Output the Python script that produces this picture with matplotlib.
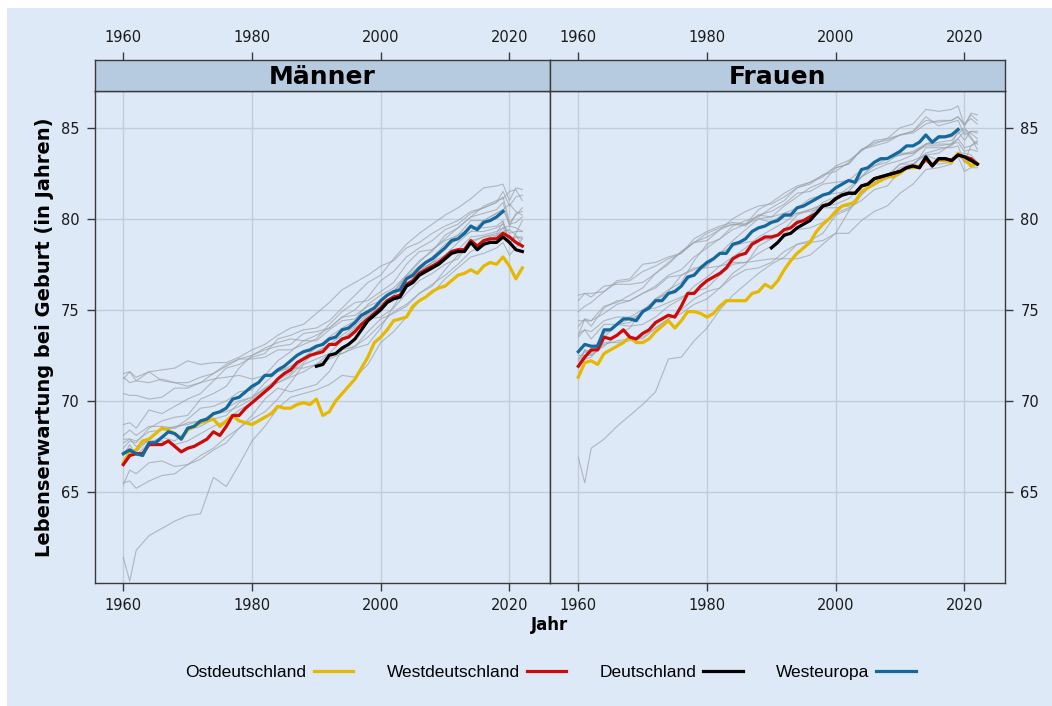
import matplotlib.pyplot as plt
from matplotlib.patches import Rectangle
from matplotlib.lines import Line2D

# ================================= Data =================================
years = list(range(1960, 2023))          # Ost-/Westdeutschland
years_we = list(range(1960, 2020))       # Westeuropa
years_de = list(range(1990, 2023))       # Deutschland
years_gray = [1960, 1961] + list(range(1962, 2019, 2)) + [2019, 2020, 2021, 2022]

# Männer
m_ost = [66.6, 67.2, 67.3, 67.8, 67.9, 68.2, 68.5, 68.4, 68.2, 67.9,
         68.4, 68.6, 68.8, 68.9, 69.0, 68.6, 68.9, 69.2, 68.9, 68.8,
         68.7, 68.9, 69.1, 69.3, 69.7, 69.6, 69.6, 69.8, 69.9, 69.8,
         70.1, 69.2, 69.4, 70.0, 70.4, 70.8, 71.2, 71.8, 72.4, 73.2,
         73.5, 73.9, 74.4, 74.5, 74.6, 75.2, 75.5, 75.7, 76.0, 76.2,
         76.3, 76.6, 76.9, 77.0, 77.2, 77.0, 77.4, 77.6, 77.5, 77.9,
         77.4, 76.7, 77.3]
m_west = [66.5, 67.0, 67.1, 67.1, 67.6, 67.6, 67.6, 67.8, 67.5, 67.2,
          67.4, 67.5, 67.7, 67.9, 68.3, 68.1, 68.6, 69.2, 69.2, 69.6,
          69.9, 70.2, 70.5, 70.8, 71.2, 71.5, 71.7, 72.1, 72.3, 72.5,
          72.6, 72.7, 73.1, 73.1, 73.4, 73.5, 73.8, 74.2, 74.5, 74.8,
          75.1, 75.5, 75.7, 75.8, 76.4, 76.6, 77.0, 77.2, 77.4, 77.6,
          77.9, 78.2, 78.3, 78.3, 78.8, 78.5, 78.8, 78.9, 78.9, 79.2,
          79.0, 78.7, 78.5]
m_de = [71.9, 72.0, 72.5, 72.6, 72.9, 73.1, 73.4, 73.9, 74.4, 74.7,
        75.0, 75.4, 75.6, 75.7, 76.3, 76.5, 76.9, 77.1, 77.3, 77.5,
        77.8, 78.1, 78.2, 78.2, 78.7, 78.3, 78.6, 78.7, 78.7, 79.0,
        78.7, 78.3, 78.2]
m_we = [67.1, 67.3, 67.1, 67.0, 67.7, 67.7, 68.0, 68.3, 68.2, 67.9,
        68.5, 68.6, 68.9, 69.0, 69.3, 69.4, 69.6, 70.1, 70.2, 70.5,
        70.8, 71.0, 71.4, 71.4, 71.7, 71.9, 72.2, 72.5, 72.7, 72.8,
        73.0, 73.1, 73.4, 73.5, 73.9, 74.0, 74.3, 74.7, 74.9, 75.1,
        75.5, 75.8, 76.0, 76.1, 76.7, 76.9, 77.3, 77.6, 77.8, 78.1,
        78.4, 78.8, 78.9, 79.2, 79.6, 79.4, 79.8, 79.9, 80.1, 80.4]

# Frauen
w_ost = [71.3, 72.1, 72.2, 72.0, 72.6, 72.8, 73.0, 73.2, 73.5, 73.2,
         73.2, 73.4, 73.8, 74.1, 74.4, 74.0, 74.4, 74.9, 74.9, 74.8,
         74.6, 74.8, 75.2, 75.5, 75.5, 75.5, 75.5, 75.9, 76.0, 76.4,
         76.2, 76.6, 77.2, 77.7, 78.1, 78.4, 78.7, 79.3, 79.7, 80.0,
         80.4, 80.7, 80.8, 80.9, 81.5, 81.7, 81.9, 82.1, 82.3, 82.3,
         82.5, 82.8, 82.8, 82.9, 83.3, 83.0, 83.2, 83.2, 83.1, 83.6,
         83.3, 82.9, 83.0]
w_west = [71.9, 72.4, 72.8, 72.8, 73.5, 73.4, 73.6, 73.9, 73.5, 73.4,
          73.7, 73.9, 74.3, 74.5, 74.7, 74.6, 75.2, 75.9, 75.9, 76.3,
          76.6, 76.8, 77.0, 77.3, 77.8, 78.0, 78.1, 78.6, 78.8, 79.0,
          79.0, 79.1, 79.4, 79.5, 79.8, 79.9, 80.1, 80.3, 80.7, 80.8,
          81.1, 81.3, 81.4, 81.4, 81.8, 81.9, 82.2, 82.3, 82.4, 82.5,
          82.6, 82.8, 82.9, 82.8, 83.3, 82.9, 83.3, 83.3, 83.2, 83.5,
          83.4, 83.3, 83.0]
w_de = [78.4, 78.7, 79.1, 79.2, 79.5, 79.7, 79.9, 80.3, 80.7, 80.8,
        81.1, 81.3, 81.4, 81.4, 81.8, 81.9, 82.2, 82.3, 82.4, 82.5,
        82.6, 82.8, 82.9, 82.8, 83.4, 82.9, 83.3, 83.3, 83.2, 83.5,
        83.4, 83.2, 83.0]
w_we = [72.7, 73.1, 73.0, 73.0, 73.9, 73.9, 74.2, 74.5, 74.5, 74.4,
        74.9, 75.1, 75.5, 75.5, 75.9, 76.0, 76.3, 76.8, 76.9, 77.3,
        77.6, 77.8, 78.1, 78.1, 78.6, 78.7, 78.9, 79.3, 79.5, 79.6,
        79.8, 79.9, 80.2, 80.2, 80.6, 80.7, 80.9, 81.1, 81.3, 81.4,
        81.7, 81.9, 82.1, 82.0, 82.7, 82.8, 83.1, 83.3, 83.3, 83.5,
        83.7, 84.0, 84.0, 84.2, 84.6, 84.2, 84.5, 84.5, 84.6, 84.9]

# einzelne westeuropäische Länder (graue Linien), Werte zu years_gray
m_schweden = [71.2, 71.6, 71.3, 71.6, 71.7, 71.8, 72.2, 72.0, 72.1, 72.1, 72.4, 72.8, 73.1, 73.6, 74.0, 74.2, 74.8, 75.4,
              76.1, 76.5, 76.9, 77.4, 77.7, 78.4, 78.7, 79.2, 79.6, 79.9, 80.4, 80.6, 80.9, 81.5, 80.7, 81.2, 81.3]
m_norwegen = [71.3, 71.0, 71.1, 71.0, 71.2, 71.0, 71.0, 71.3, 71.5, 71.9, 72.3, 72.3, 72.4, 72.8, 72.8, 73.1, 73.4, 74.2,
              74.9, 75.4, 75.5, 76.0, 76.5, 77.5, 78.2, 78.3, 78.9, 79.5, 80.1, 80.7, 81.0, 81.1, 81.5, 81.6, 81.0]
m_niederlande = [71.5, 71.6, 71.1, 71.6, 71.1, 71.0, 70.8, 71.0, 71.5, 72.0, 72.3, 72.5, 72.8, 73.0, 73.1, 73.7, 73.8, 74.0,
                 74.6, 74.7, 75.2, 75.5, 76.0, 76.9, 77.6, 78.3, 78.8, 79.1, 79.9, 79.9, 80.3, 80.5, 79.7, 79.8, 80.1]
m_daenemark = [70.4, 70.3, 70.3, 70.1, 70.2, 70.7, 70.7, 71.0, 71.2, 71.3, 71.4, 71.2, 71.4, 71.6, 71.8, 71.8, 72.0, 72.6,
               72.6, 73.0, 73.8, 74.5, 74.8, 75.2, 75.9, 76.3, 77.2, 78.0, 78.7, 79.0, 79.1, 79.5, 79.6, 79.5, 79.3]
m_schweiz = [68.7, 68.8, 68.5, 69.5, 69.3, 69.7, 70.1, 70.4, 71.1, 71.8, 72.0, 72.4, 72.6, 73.4, 73.6, 73.9, 74.0, 74.4,
             75.1, 75.8, 76.5, 76.9, 77.8, 78.6, 79.2, 79.7, 80.2, 80.6, 81.1, 81.7, 81.8, 81.9, 81.0, 81.7, 81.6]
m_uk = [67.9, 67.9, 67.8, 68.3, 68.4, 68.6, 68.7, 68.9, 69.2, 69.6, 70.0, 70.2, 71.0, 71.6, 71.9, 72.4, 72.9, 73.5,
        74.0, 74.4, 74.8, 75.5, 76.0, 76.8, 77.4, 77.9, 78.6, 79.1, 79.5, 79.5, 79.6, 79.9, 78.7, 79.0, 79.0]
m_frankreich = [67.0, 67.6, 67.0, 67.7, 68.0, 67.8, 68.4, 68.6, 69.0, 69.2, 69.9, 70.2, 70.7, 71.2, 71.5, 72.3, 72.7, 73.1,
                73.6, 74.1, 74.8, 75.3, 75.8, 76.8, 77.2, 77.6, 78.0, 78.7, 79.3, 79.3, 79.5, 79.7, 79.2, 79.3, 79.3]
m_belgien = [67.7, 67.9, 67.5, 67.8, 67.8, 67.6, 67.8, 68.2, 68.6, 68.9, 69.5, 69.9, 70.6, 71.0, 71.4, 72.1, 72.7, 73.0,
             73.4, 74.0, 74.5, 74.6, 75.1, 75.9, 76.6, 77.0, 77.5, 77.8, 78.8, 79.0, 79.2, 79.8, 78.6, 79.2, 79.9]
m_oesterreich = [65.4, 66.2, 66.0, 66.6, 66.7, 66.4, 66.5, 67.0, 67.4, 68.0, 68.5, 69.0, 69.4, 70.1, 71.0, 72.0, 72.3, 72.6,
                 73.3, 73.9, 74.7, 75.2, 75.8, 76.4, 77.1, 77.6, 77.8, 78.3, 79.0, 79.1, 79.3, 79.5, 78.9, 79.0, 78.9]
m_italien = [67.2, 67.4, 67.2, 67.9, 68.5, 68.5, 69.0, 69.6, 69.7, 70.0, 70.5, 70.6, 71.4, 72.2, 72.7, 73.3, 73.6, 74.0,
             74.6, 75.0, 75.7, 76.6, 77.1, 77.9, 78.4, 78.8, 79.4, 79.7, 80.3, 80.6, 80.9, 81.2, 79.8, 80.2, 80.6]
m_spanien = [67.4, 67.8, 67.7, 68.5, 68.9, 69.1, 69.2, 70.1, 70.4, 70.8, 71.8, 72.5, 72.9, 73.2, 73.4, 73.3, 73.3, 73.9,
             74.4, 74.5, 75.3, 75.8, 76.2, 76.9, 77.7, 78.2, 79.1, 79.5, 80.1, 80.3, 80.5, 80.9, 79.6, 80.3, 80.4]
m_portugal = [61.4, 60.1, 61.8, 62.6, 63.0, 63.4, 63.7, 63.8, 65.8, 65.3, 66.5, 67.8, 68.6, 69.6, 70.2, 70.4, 70.6, 70.9,
              71.4, 71.3, 72.0, 73.2, 73.8, 74.6, 75.5, 75.9, 76.7, 77.3, 77.9, 78.1, 78.4, 78.7, 78.0, 78.4, 78.9]
m_irland = [68.1, 68.4, 68.1, 68.6, 68.6, 68.5, 68.8, 68.9, 69.3, 69.4, 69.7, 70.1, 70.7, 71.0, 71.3, 71.6, 72.0, 72.3,
            72.6, 72.9, 73.1, 74.0, 75.2, 76.3, 77.0, 77.6, 78.4, 78.9, 79.3, 79.9, 80.3, 80.5, 80.8, 80.4, 80.2]
m_finnland = [65.5, 65.6, 65.2, 65.6, 65.9, 66.0, 66.5, 66.8, 67.3, 67.7, 68.5, 69.2, 70.1, 70.7, 70.5, 70.7, 70.9, 71.6,
              72.8, 73.0, 73.5, 74.2, 74.9, 75.3, 75.9, 76.4, 76.9, 77.5, 78.2, 78.5, 79.1, 79.3, 79.4, 79.1, 78.5]

w_schweden = [74.9, 75.2, 75.4, 76.0, 76.5, 76.6, 77.1, 77.4, 77.8, 78.1, 78.7, 78.8, 79.4, 79.7, 79.7, 80.2, 80.4, 80.8,
              81.4, 81.5, 81.9, 82.0, 82.1, 82.7, 82.9, 83.1, 83.6, 83.6, 84.1, 84.1, 84.1, 84.8, 84.3, 84.8, 84.7]
w_norwegen = [75.8, 75.9, 75.9, 76.0, 76.6, 76.7, 77.5, 77.6, 77.9, 78.1, 78.9, 79.3, 79.6, 79.8, 79.7, 80.0, 79.8, 80.3,
              80.6, 81.1, 81.3, 81.4, 81.5, 82.3, 82.7, 83.0, 83.2, 83.5, 84.1, 84.2, 84.3, 84.7, 84.9, 84.7, 84.4]
w_niederlande = [75.5, 75.9, 75.7, 76.3, 76.4, 76.4, 76.5, 77.0, 77.5, 78.2, 78.7, 79.2, 79.5, 79.7, 79.6, 80.2, 80.1, 80.3,
                 80.3, 80.4, 80.6, 80.6, 80.7, 81.4, 81.9, 82.3, 83.0, 83.0, 83.5, 83.2, 83.3, 83.6, 83.1, 83.0, 83.0]
w_daenemark = [74.4, 74.4, 74.4, 74.8, 75.3, 75.5, 75.9, 76.2, 76.8, 76.9, 77.3, 77.3, 77.4, 77.6, 77.6, 77.7, 77.8, 77.8,
               77.8, 78.0, 78.6, 79.2, 79.2, 79.9, 80.4, 80.7, 81.4, 81.9, 82.7, 82.8, 83.0, 83.6, 83.6, 83.5, 83.1]
w_schweiz = [74.1, 74.5, 74.4, 75.2, 75.4, 75.8, 76.2, 77.0, 77.6, 78.2, 78.7, 79.0, 79.4, 80.0, 80.4, 80.7, 80.8, 81.2,
             81.7, 81.9, 82.4, 82.6, 83.1, 83.8, 84.1, 84.4, 84.6, 84.7, 85.2, 85.4, 85.4, 85.6, 85.1, 85.7, 85.4]
w_uk = [73.7, 73.9, 73.8, 74.4, 74.6, 74.6, 75.0, 75.1, 75.4, 75.7, 76.0, 76.2, 76.9, 77.5, 77.6, 78.1, 78.5, 79.0,
        79.4, 79.5, 79.8, 80.3, 80.6, 81.0, 81.6, 81.8, 82.6, 82.8, 83.1, 83.0, 83.1, 83.4, 82.6, 82.8, 82.8]
w_frankreich = [73.6, 74.5, 74.1, 75.1, 75.5, 75.5, 75.9, 76.3, 76.9, 77.2, 77.9, 78.4, 78.9, 79.4, 79.7, 80.5, 80.9, 81.4,
                81.8, 82.0, 82.4, 82.8, 83.0, 83.8, 84.2, 84.3, 84.6, 84.8, 85.4, 85.3, 85.4, 85.6, 85.2, 85.5, 85.2]
w_belgien = [73.5, 73.9, 73.4, 74.2, 74.2, 74.1, 74.2, 74.6, 75.2, 75.6, 76.3, 76.8, 77.4, 77.9, 78.4, 79.0, 79.4, 79.8,
             80.3, 80.5, 80.7, 80.8, 81.1, 81.8, 82.2, 82.4, 82.6, 82.8, 83.9, 83.9, 83.9, 84.0, 83.1, 84.0, 84.2]
w_oesterreich = [71.9, 72.8, 72.5, 73.1, 73.3, 73.4, 73.4, 74.0, 74.5, 75.0, 75.6, 76.0, 76.2, 77.0, 77.5, 78.5, 78.9, 79.2,
                 79.7, 80.2, 80.9, 81.2, 81.7, 82.3, 82.9, 83.3, 83.5, 83.6, 84.0, 84.0, 84.1, 84.2, 83.7, 83.8, 83.7]
w_italien = [72.3, 72.7, 72.6, 73.5, 74.2, 74.3, 74.9, 75.6, 75.9, 76.3, 77.0, 77.4, 78.1, 78.8, 79.4, 80.0, 80.1, 80.7,
             81.2, 81.7, 82.0, 82.8, 83.0, 83.8, 84.0, 84.2, 84.6, 84.8, 85.6, 85.1, 85.3, 85.4, 84.6, 84.8, 84.8]
w_spanien = [72.2, 72.8, 72.7, 73.7, 74.2, 74.5, 74.8, 75.6, 76.1, 76.5, 77.7, 78.6, 78.9, 79.6, 79.9, 80.1, 80.6, 81.0,
             81.7, 82.0, 82.3, 82.9, 83.2, 83.7, 84.3, 84.4, 85.0, 85.2, 86.0, 85.9, 86.0, 86.2, 85.1, 85.8, 85.7]
w_portugal = [66.9, 65.5, 67.4, 67.9, 68.6, 69.2, 69.8, 70.5, 72.3, 72.4, 73.3, 74.0, 75.0, 75.8, 76.4, 77.0, 77.5, 77.9,
              78.6, 78.8, 79.2, 80.2, 80.5, 81.4, 82.0, 82.2, 82.8, 83.0, 83.6, 83.8, 84.0, 84.4, 83.9, 84.0, 84.3]
w_irland = [71.9, 72.3, 72.4, 73.2, 73.2, 73.3, 73.5, 74.0, 74.5, 74.8, 75.3, 75.6, 76.2, 76.8, 77.2, 77.3, 77.6, 78.2,
            78.6, 78.7, 78.8, 79.2, 80.4, 81.3, 82.0, 82.4, 83.0, 83.2, 83.5, 83.6, 84.1, 84.4, 84.8, 84.4, 84.1]
w_finnland = [72.5, 72.5, 72.5, 73.0, 73.6, 74.0, 75.0, 75.5, 76.0, 76.9, 77.2, 77.6, 78.1, 78.5, 78.7, 78.8, 78.9, 79.4,
              80.2, 80.5, 80.8, 81.0, 81.5, 82.3, 83.1, 83.3, 83.5, 83.7, 84.1, 84.4, 84.5, 84.8, 85.0, 84.5, 83.8]

m_gray = [m_schweden, m_norwegen, m_niederlande, m_daenemark, m_schweiz, m_uk, m_frankreich,
          m_belgien, m_oesterreich, m_italien, m_spanien, m_portugal, m_irland, m_finnland]
w_gray = [w_schweden, w_norwegen, w_niederlande, w_daenemark, w_schweiz, w_uk, w_frankreich,
          w_belgien, w_oesterreich, w_italien, w_spanien, w_portugal, w_irland, w_finnland]

labels = ["Ostdeutschland", "Westdeutschland", "Deutschland", "Westeuropa"]
colors = ["#e6b800", "#cc0a0a", "#000000", "#15679c"]

# ================================= Style =================================
W, H = 1052, 706
bg = "#dde9f6"
strip_col = "#b6cbdf"
grid_col = "#c3cdd8"
gray_col = "#9ba1a8"
spine_col = "#3a3a3a"

fig = plt.figure(figsize=(W / 100, H / 100), dpi=100)
fig.patch.set_facecolor("white")
fig.add_artist(Rectangle((7 / W, 0), 1 - 7 / W, 1 - 8 / H, transform=fig.transFigure,
                         facecolor=bg, edgecolor="none", zorder=-10))

panels = [("Männer", m_gray, [m_ost, m_west, m_de, m_we], 95),
          ("Frauen", w_gray, [w_ost, w_west, w_de, w_we], 550)]
xs = [years, years, years_de, years_we]

for i, (title, gray, series, left) in enumerate(panels):
    ax = fig.add_axes([left / W, 1 - 583 / H, 455 / W, (583 - 90.7) / H])
    st = fig.add_axes([left / W, 1 - 90.7 / H, 455 / W, (90.7 - 60) / H])

    ax.set_facecolor(bg)
    for vals in gray:
        ax.plot(years_gray, vals, color=gray_col, lw=0.8, alpha=0.7, zorder=2)
    for x, vals, c in zip(xs, series, colors):
        ax.plot(x, vals, color=c, lw=2.3, zorder=3)

    ax.set_xlim(1955.6, 2026.3)
    ax.set_ylim(60.0, 87.03)
    ax.set_xticks([1960, 1980, 2000, 2020])
    ax.set_yticks([65, 70, 75, 80, 85])
    ax.grid(True, color=grid_col, lw=1.0, zorder=1)
    ax.set_axisbelow(True)
    ax.tick_params(direction="out", length=6, width=1, colors=spine_col,
                   labelcolor="#1a1a1a", labelsize=10.5, pad=5)
    if i == 0:
        ax.yaxis.tick_left()
    else:
        ax.yaxis.tick_right()
    for s in ax.spines.values():
        s.set_color(spine_col)
        s.set_linewidth(1)

    # strip with title and top axis
    st.set_facecolor(strip_col)
    st.set_xlim(1955.6, 2026.3)
    st.set_xticks([1960, 1980, 2000, 2020])
    st.set_yticks([])
    st.xaxis.tick_top()
    st.tick_params(direction="out", length=6, width=1, colors=spine_col,
                   labelcolor="#1a1a1a", labelsize=10.5, pad=5)
    for s in st.spines.values():
        s.set_color(spine_col)
        s.set_linewidth(1)
    st.text(0.5, 0.45, title, transform=st.transAxes, ha="center", va="center",
            fontsize=18, fontweight="bold")

fig.text(45 / W, 1 - 337 / H, "Lebenserwartung bei Geburt (in Jahren)", rotation=90,
         ha="center", va="center", fontsize=14, fontweight="bold")
fig.text(550 / W, 1 - 625 / H, "Jahr", ha="center", va="center", fontsize=12, fontweight="bold")

handles = [Line2D([], [], color=c, lw=2.3) for c in colors]
fig.legend(handles, labels, loc="center", bbox_to_anchor=(551 / W, 1 - 672 / H), ncol=4,
           frameon=False, markerfirst=False, handlelength=2.3, handletextpad=0.4,
           columnspacing=1.9, prop={"family": "Liberation Sans", "size": 12.5})

fig.savefig("out.png", dpi=100, facecolor=fig.get_facecolor())
